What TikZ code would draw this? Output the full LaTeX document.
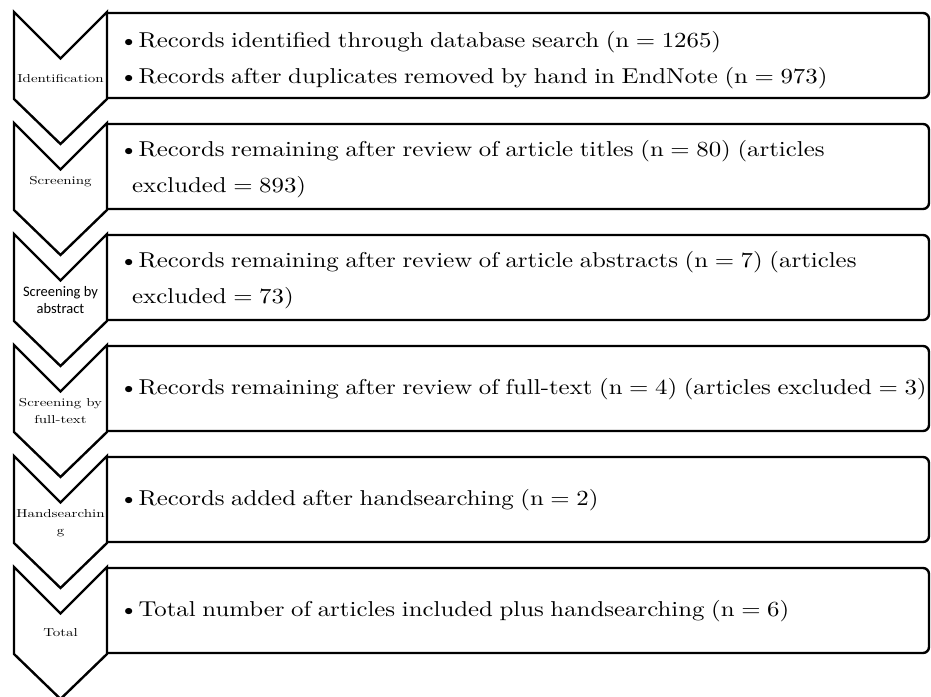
\documentclass[tikz,border=0pt]{standalone}
\usepackage{fontspec}
\setmainfont{lmroman10-regular.otf}[FakeStretch=1.155, WordSpace=0.8]
\newfontfamily\stagefont{lmroman10-regular.otf}[FakeStretch=1.3]
\newfontfamily\labelsans{Carlito}

\begin{document}
\begin{tikzpicture}[x=1pt, y=-1pt, line width=2.4pt, line join=miter,
    stage/.style={align=center, inner sep=0pt, font=\stagefont\fontsize{11.5}{17}\selectfont},
    entry/.style={anchor=west, align=left, inner sep=0pt, font=\fontsize{21.5}{36.5}\selectfont}]

  %% ════ chevrons down the left side ════
  \foreach \y in {12,123,234,345,456,567}
    \draw (14,\y) -- (60.5,\y+46.5) -- (107,\y) -- (107,\y+87) -- (60.5,\y+132) -- (14,\y+87) -- cycle;

  %% ════ boxes, rounded on the right only ════
  \foreach \y in {12,123,234,345,456,567}
    \draw[rounded corners=6pt] (107,\y+1) -- (929,\y+1) -- (929,\y+86) -- (107,\y+86);

  %% ════ stage names ════
  \node[stage] (identification) at (60.5,79) {Identification};
  \node[stage] (screening) at (60.5,182) {Screening};
  \node[stage, font=\labelsans\fontsize{14.5}{17}\selectfont] (byabstract) at (60.5,300.5) {Screening by\\abstract};
  \node[stage] (byfulltext) at (60.5,411.5) {Screening by\\full-text};
  \node[stage] (handsearching) at (60.5,523) {Handsearchin\\g};
  \node[stage] (total) at (60.5,633) {Total};

  %% ════ record counts ════
  \node[entry] (found) at (118,60) {\textbullet Records identified through database search (n = 1265)\\
    \textbullet Records after duplicates removed by hand in EndNote (n = 973)};
  \node[entry] (bytitle) at (118,169) {\textbullet Records remaining after review of article titles (n = 80) (articles\\
    \hspace*{13pt}excluded = 893)};
  \node[entry] (byabstractn) at (118,280) {\textbullet Records remaining after review of article abstracts (n = 7) (articles\\
    \hspace*{13pt}excluded = 73)};
  \node[entry] (byfulltextn) at (118,389) {\textbullet Records remaining after review of full-text (n = 4) (articles excluded = 3)};
  \node[entry] (added) at (118,500) {\textbullet Records added after handsearching (n = 2)};
  \node[entry] (included) at (118,611) {\textbullet Total number of articles included plus handsearching (n = 6)};

  % fixed canvas
  \pgfresetboundingbox
  \path[use as bounding box] (0,0) rectangle (931,696);
\end{tikzpicture}
\end{document}
